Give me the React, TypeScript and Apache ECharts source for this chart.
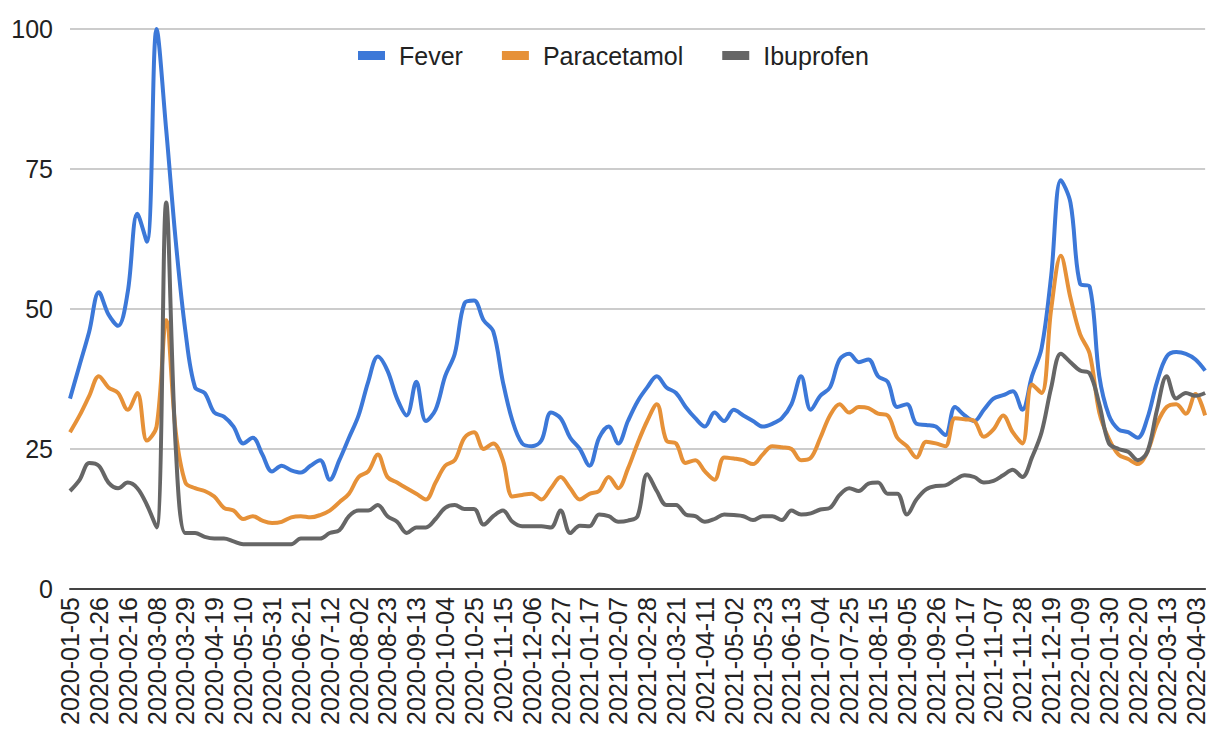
import React, { useEffect, useRef } from "react";
import * as echarts from "echarts";

const weeks2020 = "01-05 01-12 01-19 01-26 02-02 02-09 02-16 02-23 03-01 03-08 03-15 03-22 03-29 04-05 04-12 04-19 04-26 05-03 05-10 05-17 05-24 05-31 06-07 06-14 06-21 06-28 07-05 07-12 07-19 07-26 08-02 08-09 08-16 08-23 08-30 09-06 09-13 09-20 09-27 10-04 10-11 10-18 10-25 11-01 11-08 11-15 11-22 11-29 12-06 12-13 12-20 12-27"
  .split(" ").map((d) => "2020-" + d);
const weeks2021 = "01-03 01-10 01-17 01-24 01-31 02-07 02-14 02-21 02-28 03-07 03-14 03-21 03-28 04-04 04-11 04-18 04-25 05-02 05-09 05-16 05-23 05-30 06-06 06-13 06-20 06-27 07-04 07-11 07-18 07-25 08-01 08-08 08-15 08-22 08-29 09-05 09-12 09-19 09-26 10-03 10-10 10-17 10-24 10-31 11-07 11-14 11-21 11-28 12-05 12-12 12-19 12-26"
  .split(" ").map((d) => "2021-" + d);
const weeks2022 = "01-02 01-09 01-16 01-23 01-30 02-06 02-13 02-20 02-27 03-06 03-13 03-20 03-27 04-03 04-10"
  .split(" ").map((d) => "2022-" + d);
const categories = [...weeks2020, ...weeks2021, ...weeks2022];

const fever = [
  34, 40, 46, 53, 49, 47, 53, 67, 62, 100,
  82, 62, 46, 36, 35, 31.5, 30.8, 29, 26, 27,
  24, 21, 22, 21.2, 20.8, 22, 23, 19.5, 23, 27,
  31, 37, 41.5, 39, 34, 31, 37, 30, 32, 38,
  42, 51, 51.5, 48, 46, 37, 30, 26, 25.5, 26.5,
  31.5, 30.5, 27, 25, 22, 27, 29, 26, 30, 33.5,
  36, 38, 36, 35, 32.5, 30.5, 29, 31.5, 30, 32,
  31, 30, 29, 29.5, 30.5, 33, 38, 32, 34.5, 36,
  41, 42, 40.5, 41, 38, 37, 32.5, 33, 29.5, 29.3,
  29, 27.5, 32.5, 31, 30, 32, 34, 34.6, 35.3, 32,
  38, 43, 56, 73, 69, 54.5, 54, 38, 31, 28.5,
  28, 27, 30.5, 37, 41.5, 42.3, 42, 41, 39,
];

const paracetamol = [
  28, 31, 34.5, 38, 36, 35, 32, 35, 26.5, 29,
  48, 28, 19, 18, 17.5, 16.5, 14.5, 14, 12.5, 13,
  12.2, 11.8, 12, 12.8, 13, 12.8, 13.2, 14, 15.5, 17,
  20, 21, 24, 20, 19, 18, 17, 16, 19, 22,
  23, 27, 28, 25, 26, 23, 16.5, 16.8, 17, 16,
  18, 20, 18, 16, 17, 17.5, 20, 18, 21.5, 26,
  30, 33, 26.5, 26, 22.5, 23, 21, 19.5, 23.5, 23.3,
  23, 22.3, 24, 25.5, 25.3, 25, 23, 23.4, 27, 31,
  33, 31.5, 32.5, 32.3, 31.3, 31, 27, 25.5, 23.5, 26.3,
  26, 25.5, 30.5, 30.3, 30, 27.2, 28.5, 31, 28, 26,
  36.5, 35, 50, 59.5, 52, 45.5, 42, 31.5, 26.8, 24,
  23.2, 22.3, 24.5, 29.5, 32.5, 33, 31.3, 34.8, 31,
];

const ibuprofen = [
  17.5, 19.5, 22.5, 22, 19, 18, 19, 18, 15, 11,
  69, 25, 10, 10, 9.3, 9, 9, 8.5, 8, 8,
  8, 8, 8, 8, 9, 9, 9, 10, 10.5, 13,
  14, 14, 15, 13, 12, 10, 11, 11, 12.5, 14.5,
  15, 14.3, 14.3, 11.5, 13, 14, 12, 11.2, 11.2, 11.2,
  11, 14, 10, 11.3, 11.2, 13.3, 13, 12, 12.2, 13,
  20.5, 17.5, 15, 15, 13.3, 13, 12, 12.5, 13.3, 13.2,
  13, 12.3, 13, 13, 12.3, 14, 13.3, 13.5, 14.2, 14.5,
  16.8, 18, 17.5, 18.8, 19, 17, 17, 13.3, 16, 17.8,
  18.4, 18.5, 19.5, 20.3, 20, 19, 19.3, 20.3, 21.3, 20,
  23.5, 28, 36, 42, 40.5, 39, 38.5, 33, 26, 25,
  24.5, 23, 24.5, 32, 38, 34, 35, 34.5, 35,
];

const seriesNames = ["Fever", "Paracetamol", "Ibuprofen"];
const seriesColors = ["#3c78d8", "#e69138", "#666666"];
const yTicks = { min: 0, max: 100, interval: 25 };

const FONT = "'Liberation Sans', Arial, sans-serif";

export default function App() {
  const ref = useRef<HTMLDivElement>(null);
  useEffect(() => {
    if (!ref.current) return;
    const chart = echarts.init(ref.current, undefined, { renderer: "svg" });
    const datasets = [fever, paracetamol, ibuprofen];
    chart.setOption({
      animation: false,
      backgroundColor: "#ffffff",
      textStyle: { fontFamily: FONT },
      legend: {
        left: 353,
        top: 38,
        icon: "rect",
        itemWidth: 27,
        itemHeight: 9,
        itemGap: 39,
        textStyle: {
          fontFamily: FONT,
          fontSize: 25,
          color: "#222222",
          padding: [0, 0, 0, 9],
        },
        data: seriesNames,
      },
      grid: { left: 70, right: 1, top: 29, bottom: 144, containLabel: false },
      xAxis: {
        type: "category",
        data: categories,
        boundaryGap: false,
        axisLine: { show: true, lineStyle: { color: "#444444", width: 2 } },
        axisTick: { show: false },
        axisLabel: {
          interval: 2,
          rotate: 90,
          margin: 8,
          fontSize: 25,
          fontFamily: FONT,
          color: "#222222",
        },
        splitLine: { show: false },
      },
      yAxis: {
        type: "value",
        min: yTicks.min,
        max: yTicks.max,
        interval: yTicks.interval,
        axisLine: { show: false },
        axisTick: { show: false },
        axisLabel: {
          margin: 17,
          fontSize: 25,
          fontFamily: FONT,
          color: "#222222",
        },
        splitLine: { show: true, lineStyle: { color: "#cccccc", width: 2 } },
      },
      series: seriesNames.map((name, i) => ({
        name,
        type: "line",
        data: datasets[i],
        smooth: 0.35,
        showSymbol: false,
        symbol: "none",
        color: seriesColors[i],
        lineStyle: { color: seriesColors[i], width: 4 },
        itemStyle: { color: seriesColors[i] },
        z: 2 + i,
      })),
    });
    return () => chart.dispose();
  }, []);
  return (
    <div
      ref={ref}
      style={{ position: "fixed", left: 0, top: 0, width: 1208, height: 733 }}
    />
  );
}
